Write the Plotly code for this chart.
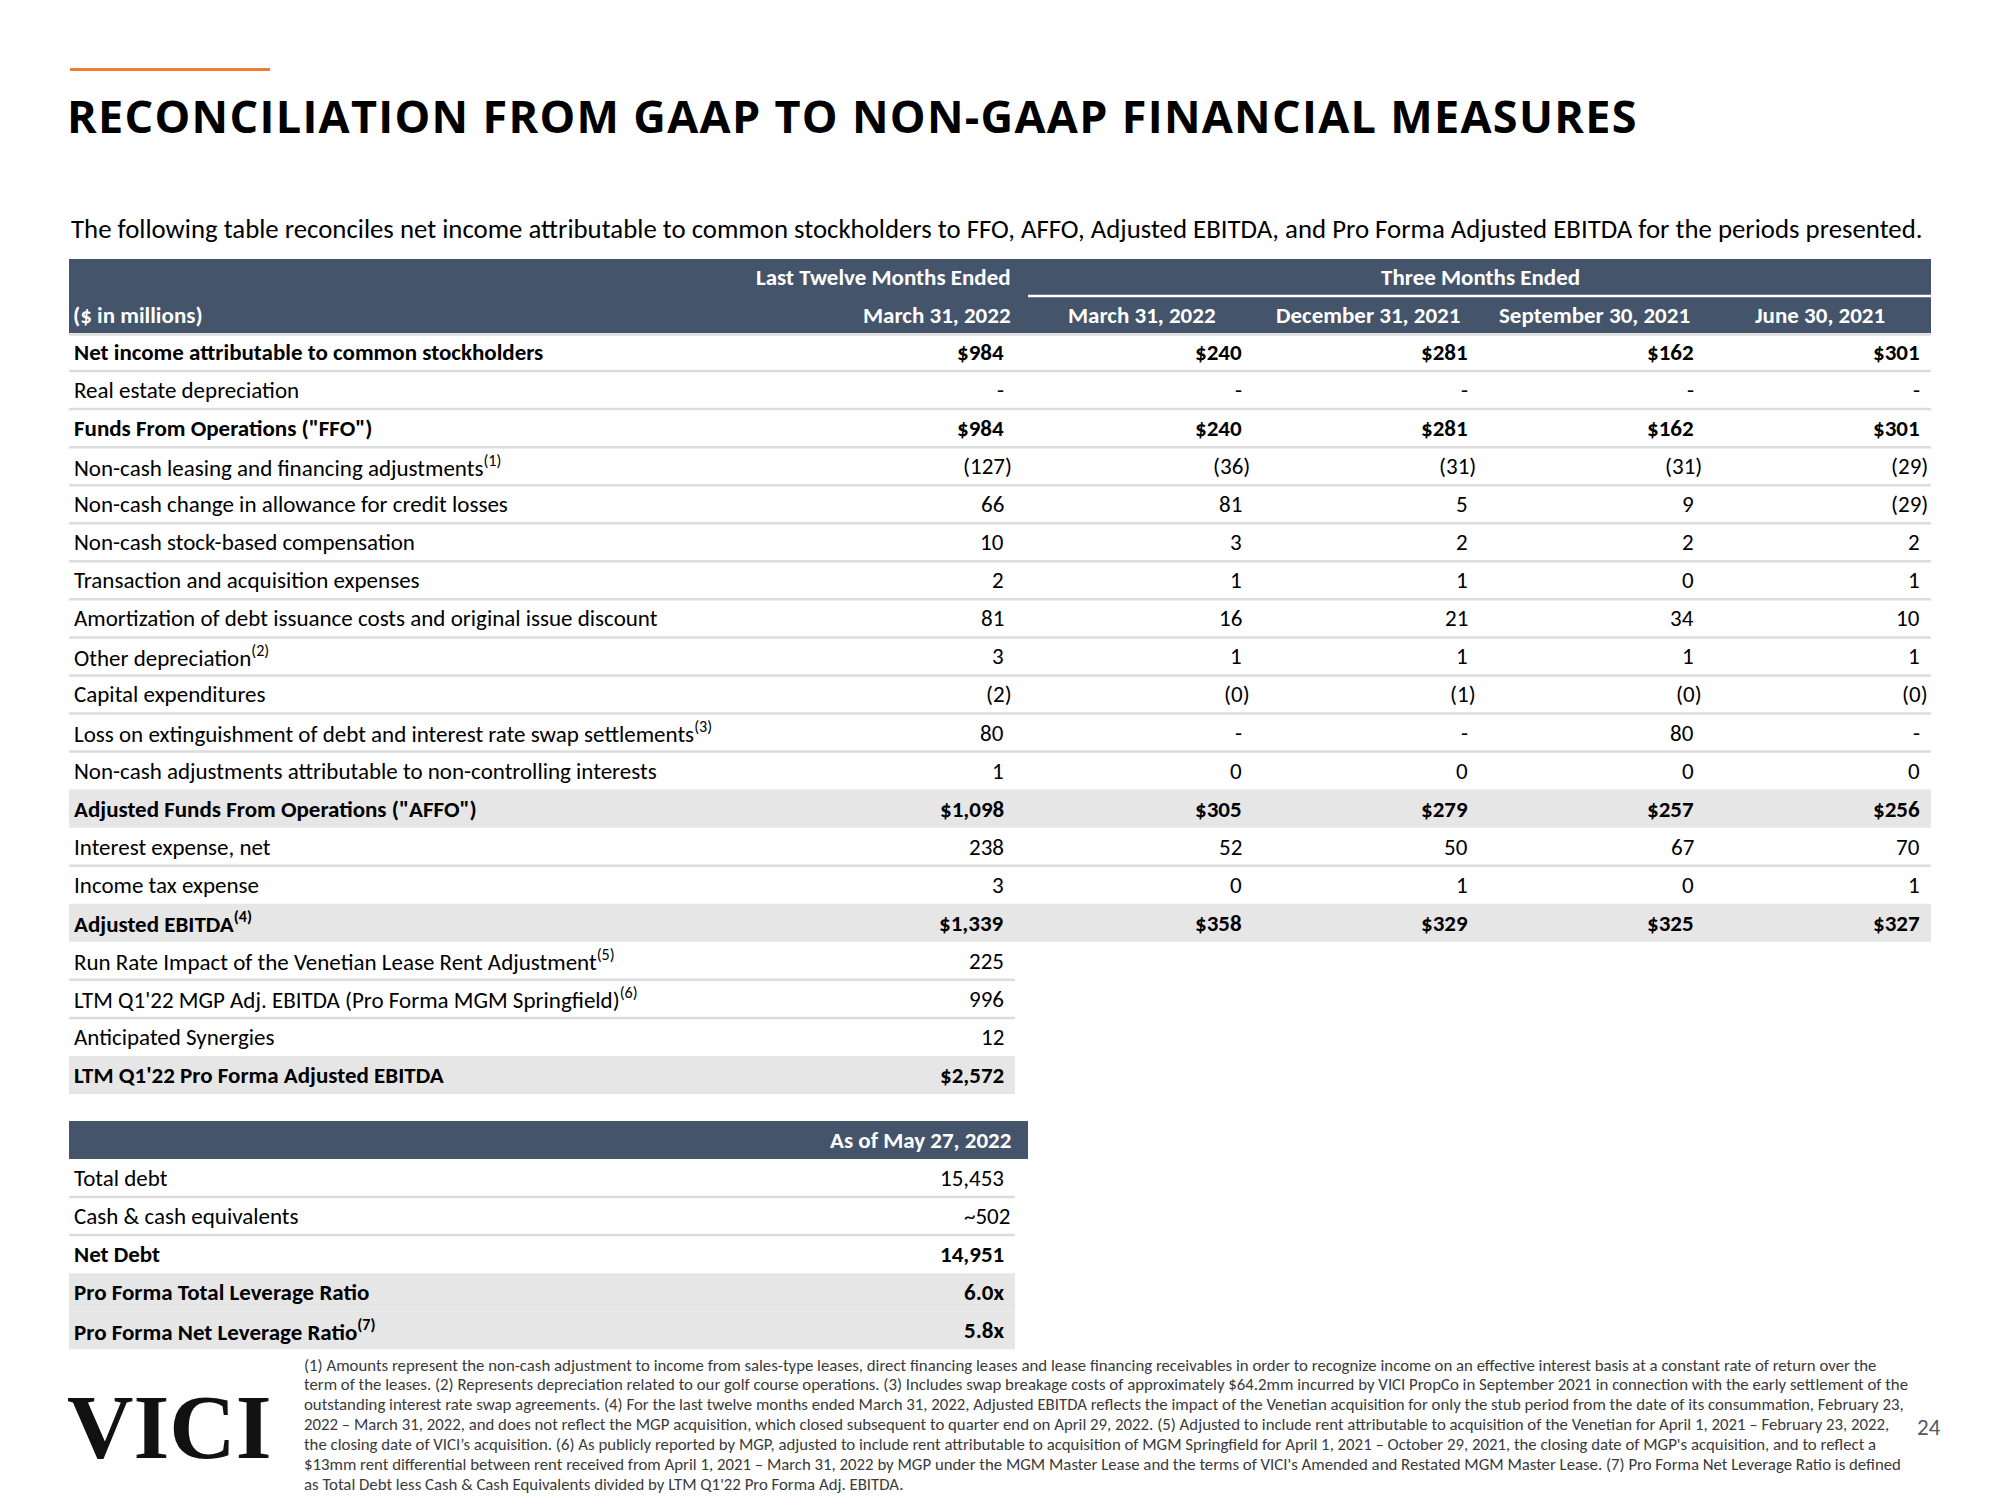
import math
import plotly.graph_objects as go

# ---------------- data ----------------
title_text = "RECONCILIATION FROM GAAP TO NON-GAAP FINANCIAL MEASURES"
subtitle_text = ("The following table reconciles net income attributable to common stockholders to FFO, AFFO, "
                 "Adjusted EBITDA, and Pro Forma Adjusted EBITDA for the periods presented.")

group_headers = ["Last Twelve Months Ended", "Three Months Ended"]
unit_label = "($ in millions)"
period_headers = ["March 31, 2022", "March 31, 2022", "December 31, 2021", "September 30, 2021", "June 30, 2021"]

row_labels = [
    "Net income attributable to common stockholders",
    "Real estate depreciation",
    'Funds From Operations ("FFO")',
    "Non-cash leasing and financing adjustments",
    "Non-cash change in allowance for credit losses",
    "Non-cash stock-based compensation",
    "Transaction and acquisition expenses",
    "Amortization of debt issuance costs and original issue discount",
    "Other depreciation",
    "Capital expenditures",
    "Loss on extinguishment of debt and interest rate swap settlements",
    "Non-cash adjustments attributable to non-controlling interests",
    'Adjusted Funds From Operations ("AFFO")',
    "Interest expense, net",
    "Income tax expense",
    "Adjusted EBITDA",
    "Run Rate Impact of the Venetian Lease Rent Adjustment",
    "LTM Q1'22 MGP Adj. EBITDA (Pro Forma MGM Springfield)",
    "Anticipated Synergies",
    "LTM Q1'22 Pro Forma Adjusted EBITDA",
]
row_notes = ["", "", "", "(1)", "", "", "", "", "(2)", "", "(3)", "", "", "", "", "(4)", "(5)", "(6)", "", ""]
total_rows = [0, 2, 12, 15, 19]        # bold, shown with $
shaded_rows = [12, 15, 19]

# None = "-", -0.0 = "(0)"
ltm_mar_2022 = [984, None, 984, -127, 66, 10, 2, 81, 3, -2, 80, 1, 1098, 238, 3, 1339, 225, 996, 12, 2572]
q_mar_2022 = [240, None, 240, -36, 81, 3, 1, 16, 1, -0.0, None, 0, 305, 52, 0, 358]
q_dec_2021 = [281, None, 281, -31, 5, 2, 1, 21, 1, -1, None, 0, 279, 50, 1, 329]
q_sep_2021 = [162, None, 162, -31, 9, 2, 0, 34, 1, -0.0, 80, 0, 257, 67, 0, 325]
q_jun_2021 = [301, None, 301, -29, -29, 2, 1, 10, 1, -0.0, None, 0, 256, 70, 1, 327]

debt_header = "As of May 27, 2022"
debt_labels = ["Total debt", "Cash & cash equivalents", "Net Debt",
               "Pro Forma Total Leverage Ratio", "Pro Forma Net Leverage Ratio"]
debt_notes = ["", "", "", "", "(7)"]
debt_values = ["15,453", "~502", "14,951", "6.0x", "5.8x"]
debt_bold = [2, 3, 4]
debt_shaded = [3, 4]

footnote_lines = [
    "(1) Amounts represent the non-cash adjustment to income from sales-type leases, direct financing leases and lease financing receivables in order to recognize income on an effective interest basis at a constant rate of return over the",
    "term of the leases. (2) Represents depreciation related to our golf course operations. (3) Includes swap breakage costs of approximately $64.2mm incurred by VICI PropCo in September 2021 in connection with the early settlement of the",
    "outstanding interest rate swap agreements. (4) For the last twelve months ended March 31, 2022, Adjusted EBITDA reflects the impact of the Venetian acquisition for only the stub period from the date of its consummation, February 23,",
    "2022 \u2013 March 31, 2022, and does not reflect the MGP acquisition, which closed subsequent to quarter end on April 29, 2022. (5) Adjusted to include rent attributable to acquisition of the Venetian for April 1, 2021 \u2013 February 23, 2022,",
    "the closing date of VICI\u2019s acquisition. (6) As publicly reported by MGP, adjusted to include rent attributable to acquisition of MGM Springfield for April 1, 2021 \u2013 October 29, 2021, the closing date of MGP's acquisition, and to reflect a",
    "$13mm rent differential between rent received from April 1, 2021 \u2013 March 31, 2022 by MGP under the MGM Master Lease and the terms of VICI's Amended and Restated MGM Master Lease. (7) Pro Forma Net Leverage Ratio is defined",
    "as Total Debt less Cash &amp; Cash Equivalents divided by LTM Q1'22 Pro Forma Adj. EBITDA.",
]
logo_text = "VICI"
page_number = "24"

# ---------------- styling / layout ----------------
BODY = "Carlito, Calibri, Lato, sans-serif"
TITLE_FONT = "Open Sans, sans-serif"
HEADER_BG = "#44546A"
SHADE = "#E7E6E6"
SEP = "#DDDDDD"
ORANGE = "#ED7D31"

W, H = 2000, 1500
OFF = 8                    # page body margin around the plot div
TL, TR = 69, 1931          # main table extent
LTM_R = 1015               # right edge of LTM-only rows
HDR_TOP, HDR_MID, HDR_BOT = 259, 296, 333
ROW_H = 38.05
ROW0 = HDR_BOT + ROW_H / 2
LABEL_X = 73
VAL_X = [1005, 1243, 1469, 1695, 1921]
Q_BOUNDS = [1028, 1254, 1480, 1706, 1932]
HDR_R = 1012
PAREN = 8
FS = 23

fig = go.Figure()
shapes = []
ann = []


def rect(x0, x1, y0, y1, color):
    shapes.append(dict(type="rect", xref="x", yref="y", x0=x0, x1=x1, y0=y0, y1=y1,
                       fillcolor=color, line=dict(width=0), layer="below"))


def hline(x0, x1, y, color, w):
    shapes.append(dict(type="line", xref="x", yref="y", x0=x0, x1=x1, y0=y, y1=y,
                       line=dict(color=color, width=w), layer="below"))


def text(x, y, s, anchor="left", size=FS, color="black", bold=False, family=BODY):
    if bold:
        s = "<b>" + s + "</b>"
    ann.append(dict(x=x, y=y, xref="x", yref="y", text=s, showarrow=False, xanchor=anchor,
                    yanchor="middle", font=dict(family=family, size=size, color=color), borderpad=0))


def fmt(v, dollar):
    if v is None:
        return "-", False
    neg = v < 0 or (v == 0 and math.copysign(1, v) < 0)
    s = f"{abs(v):,.0f}"
    if dollar:
        s = "$" + s
    return (f"({s})", True) if neg else (s, False)


# orange accent + title + subtitle
hline(70, 270, 69.5, ORANGE, 3)
text(66, 115, '<span style="letter-spacing:1.3px">' + title_text + "</span>", size=45, bold=True,
     family=TITLE_FONT)
text(70, 228, subtitle_text, size=26.8)

# main table header
rect(TL, TR, HDR_TOP, HDR_BOT, HEADER_BG)
hline(Q_BOUNDS[0], TR, HDR_MID, "white", 2.5)
text(HDR_R, 277, group_headers[0], anchor="right", color="white", bold=True)
text((Q_BOUNDS[0] + Q_BOUNDS[-1]) / 2, 277, group_headers[1], anchor="center", color="white", bold=True)
text(LABEL_X - 1, 315, unit_label, color="white", bold=True)
text(HDR_R, 315, period_headers[0], anchor="right", color="white", bold=True)
for k in range(4):
    text((Q_BOUNDS[k] + Q_BOUNDS[k + 1]) / 2 + 1, 315, period_headers[k + 1], anchor="center",
         color="white", bold=True)
hline(TL, TR, HDR_BOT + 1.5, SEP, 2.5)

columns = [ltm_mar_2022, q_mar_2022, q_dec_2021, q_sep_2021, q_jun_2021]
n = len(row_labels)
for i in range(n):
    yc = ROW0 + i * ROW_H
    right = TR if i < len(q_mar_2022) else LTM_R
    if i in shaded_rows:
        rect(TL, right, yc - ROW_H / 2, yc + ROW_H / 2, SHADE)
    if i < n - 1 and i not in shaded_rows and (i + 1) not in shaded_rows:
        nxt_right = TR if i + 1 < len(q_mar_2022) else LTM_R
        hline(TL, min(right, nxt_right), yc + ROW_H / 2, SEP, 2.5)
    bold = i in total_rows
    lab = row_labels[i]
    if row_notes[i]:
        lab += "<sup>" + row_notes[i] + "</sup>"
    text(LABEL_X, yc, lab, bold=bold)
    for c, col in enumerate(columns):
        if i >= len(col):
            continue
        s, neg = fmt(col[i], bold)
        text(VAL_X[c] + (PAREN if neg else 0), yc, s, anchor="right", bold=bold)

# debt table
D_TOP, D_HDR_BOT = 1121, 1159
D_RIGHT = 1028
rect(TL, D_RIGHT, D_TOP, D_HDR_BOT, HEADER_BG)
text(HDR_R, (D_TOP + D_HDR_BOT) / 2, debt_header, anchor="right", color="white", bold=True)
for i in range(len(debt_labels)):
    yc = D_HDR_BOT + ROW_H / 2 + i * ROW_H
    if i in debt_shaded:
        rect(TL, LTM_R, yc - ROW_H / 2, yc + ROW_H / 2, SHADE)
    if i < len(debt_labels) - 1 and i not in debt_shaded and (i + 1) not in debt_shaded:
        hline(TL, LTM_R, yc + ROW_H / 2, SEP, 2.5)
    bold = i in debt_bold
    lab = debt_labels[i].replace("&", "&amp;")
    if debt_notes[i]:
        lab += "<sup>" + debt_notes[i] + "</sup>"
    text(LABEL_X, yc, lab, bold=bold)
    v = debt_values[i]
    text(VAL_X[0] + (6 if v.startswith("~") else 0), yc, v, anchor="right", bold=bold)

# footnotes, logo, page number
for k, line in enumerate(footnote_lines):
    text(303, 1365 + k * 19.9, line, size=16.8, color="#3A3A3A")
text(66, 1427, logo_text, size=92, bold=True, family="Liberation Serif, serif", color="#111111")
text(1929, 1427, page_number, anchor="center", size=23, color="#595959")

fig.update_layout(shapes=shapes, annotations=ann)
fig.update_xaxes(range=[OFF, W + OFF], visible=False, fixedrange=True)
fig.update_yaxes(range=[H + OFF, OFF], visible=False, fixedrange=True)
fig.update_layout(width=W, height=H, margin=dict(l=0, r=0, t=0, b=0),
                  plot_bgcolor="white", paper_bgcolor="white", showlegend=False)
fig.write_html("out.html")
